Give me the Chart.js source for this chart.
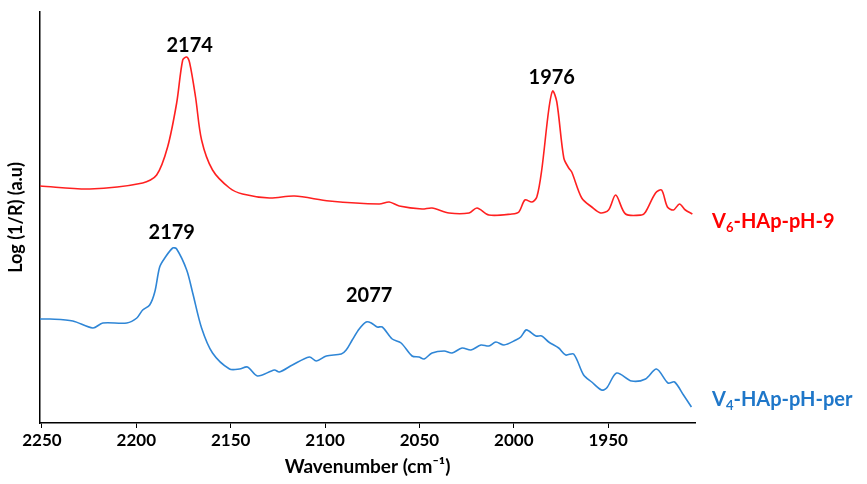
<!DOCTYPE html>
<html>
<head>
<meta charset="utf-8">
<script src="https://cdn.jsdelivr.net/npm/chart.js@4"></script>
<style>
  html, body { margin: 0; padding: 0; background: #fff; }
  #wrap { width: 867px; height: 484px; position: relative; }
</style>
</head>
<body>
<div id="wrap"><canvas id="irChart"></canvas></div>
<script>
// Wavenumber (cm-1) and intensity (a.u.)
const redWn = [2251, 2224.6, 2196.6, 2189.2, 2183.4, 2178.6, 2175.4, 2173.3, 2171.7, 2168.6, 2165.4, 2159.6,
    2150.6, 2143.7, 2129.4, 2116.2, 2097.7, 2071.3, 2066, 2060.7, 2048.6, 2043.3, 2034.3, 2023.7, 2019.5,
    2013.2, 2001, 1997.3, 1994.1, 1990.4, 1987.8, 1985.2, 1981.5, 1979.4, 1977.2, 1973.5, 1970.9, 1969.3,
    1964, 1958.7, 1954, 1949.8, 1946, 1940.8, 1932.3, 1930.2, 1924.9, 1921.7, 1918.6, 1915.4, 1912.2,
    1909.1, 1905.4];
const redVal = [2.37, 2.34, 2.40, 2.48, 2.76, 3.20, 3.63, 3.66, 3.60, 3.26, 2.83, 2.53,
    2.35, 2.29, 2.25, 2.27, 2.22, 2.19, 2.21, 2.17, 2.14, 2.15, 2.10, 2.10, 2.15,
    2.08, 2.09, 2.11, 2.23, 2.21, 2.26, 2.53, 3.13, 3.32, 3.21, 2.65, 2.55, 2.51,
    2.25, 2.16, 2.10, 2.13, 2.28, 2.09, 2.08, 2.11, 2.30, 2.33, 2.16, 2.13, 2.19,
    2.13, 2.09];

const blueWn = [2251, 2245.7, 2233.6, 2223, 2217.7, 2205, 2199.7, 2196.6, 2192.9, 2190.2, 2187.6, 2184.9,
    2180.7, 2178.6, 2173.3, 2170.1, 2165.4, 2159.6, 2150.6, 2145.3, 2141.1, 2135.8, 2126.8, 2124.2,
    2117.3, 2108.3, 2104.6, 2099.3, 2091.4, 2088.8, 2085.6, 2081.9, 2078.2, 2075.5, 2072.4, 2069.7,
    2064.4, 2059.7, 2053.9, 2050.2, 2047.5, 2043.3, 2036.9, 2032.7, 2027.4, 2022.7, 2017.4, 2013.2,
    2009.5, 2005.2, 1998.9, 1996.3, 1993.6, 1992, 1988.3, 1985.2, 1981.5, 1976.2, 1972.5, 1968.3,
    1963, 1958.7, 1953.5, 1950.8, 1945.5, 1937.6, 1930.2, 1924.4, 1918.3, 1914.8, 1910.1, 1905.9];
const blueVal = [1.04, 1.04, 1.02, 0.95, 1.00, 1.00, 1.05, 1.13, 1.18, 1.31, 1.56, 1.65,
    1.75, 1.74, 1.53, 1.30, 0.95, 0.70, 0.54, 0.54, 0.56, 0.47, 0.53, 0.51,
    0.58, 0.66, 0.62, 0.67, 0.69, 0.73, 0.83, 0.94, 1.01, 1.00, 0.96, 0.96,
    0.84, 0.80, 0.67, 0.66, 0.64, 0.70, 0.72, 0.70, 0.75, 0.73, 0.78, 0.77,
    0.81, 0.78, 0.83, 0.86, 0.93, 0.92, 0.87, 0.87, 0.81, 0.75, 0.68, 0.69,
    0.48, 0.41, 0.33, 0.35, 0.50, 0.42, 0.44, 0.54, 0.40, 0.41, 0.28, 0.16];

const xTicks = [2250, 2200, 2150, 2100, 2050, 2000, 1950];

// peak annotations
const peakText = ['2174', '1976', '2179', '2077'];
const peakWn = [2171.7, 1979.9, 2181.2, 2076.6];
const peakVal = [3.77, 3.45, 1.90, 1.27];

// series names (V + subscript + rest), placed to the right of the plot
const seriesMain = ['V', 'V'];
const seriesSub = ['6', '4'];
const seriesRest = ['-HAp-pH-9', '-HAp-pH-per'];
const seriesVal = [2.01, 0.23];
const seriesColor = ['#ff0000', '#1f77c9'];

const toPoints = (xs, ys) => xs.map((x, i) => ({ x: x, y: ys[i] }));

const FONT = 'Lato, "Open Sans", sans-serif';

// draws the peak numbers and the series names
const labelPlugin = {
    id: 'labels',
    afterDatasetsDraw(chart) {
        const ctx = chart.ctx;
        const xs = chart.scales.x;
        const ys = chart.scales.y;
        ctx.save();
        ctx.fillStyle = '#000';
        ctx.font = 'bold 20px ' + FONT;
        ctx.textAlign = 'center';
        ctx.textBaseline = 'middle';
        peakText.forEach((t, i) => {
            ctx.fillText(t, xs.getPixelForValue(peakWn[i]), ys.getPixelForValue(peakVal[i]));
        });

        ctx.textAlign = 'left';
        seriesMain.forEach((m, i) => {
            let x = chart.chartArea.right + 17;
            const y = ys.getPixelForValue(seriesVal[i]);
            ctx.fillStyle = seriesColor[i];
            ctx.font = 'bold 20px ' + FONT;
            ctx.fillText(m, x, y);
            x += ctx.measureText(m).width;
            ctx.font = 'bold 13px ' + FONT;
            ctx.fillText(seriesSub[i], x, y + 6);
            x += ctx.measureText(seriesSub[i]).width;
            ctx.font = 'bold 20px ' + FONT;
            ctx.fillText(seriesRest[i], x, y);
        });
        ctx.restore();
    }
};

function initChart() {
    const ctx = document.getElementById('irChart').getContext('2d');

    const data = {
        datasets: [{
            label: 'V6-HAp-pH-9',
            data: toPoints(redWn, redVal),
            borderColor: '#ff2020',
            borderWidth: 1.6,
            pointRadius: 0,
            tension: 0.3
        }, {
            label: 'V4-HAp-pH-per',
            data: toPoints(blueWn, blueVal),
            borderColor: '#2f86d6',
            borderWidth: 1.6,
            pointRadius: 0,
            tension: 0.3
        }]
    };

    const config = {
        type: 'line',
        data: data,
        plugins: [labelPlugin],
        options: {
            responsive: true,
            maintainAspectRatio: false,
            animation: false,
            layout: { padding: { top: 12, right: 172, bottom: 0, left: 0 } },
            plugins: {
                legend: { display: false },
                tooltip: { enabled: false }
            },
            scales: {
                x: {
                    type: 'linear',
                    reverse: true,
                    min: 1904,
                    max: 2251,
                    afterBuildTicks: (scale) => {
                        scale.ticks = xTicks.map(v => ({ value: v }));
                    },
                    afterFit: (scale) => { scale.height = 61; },
                    grid: { drawOnChartArea: false, tickLength: 5, color: '#000' },
                    border: { color: '#000', width: 1.5 },
                    ticks: {
                        color: '#000',
                        padding: 2,
                        maxRotation: 0,
                        autoSkip: false,
                        callback: (v) => String(v),
                        font: { family: FONT, size: 17, weight: 'bold' }
                    },
                    title: {
                        display: true,
                        text: 'Wavenumber (cm\u207B\u00B9)',
                        color: '#000',
                        padding: { top: 0, bottom: 6 },
                        font: { family: FONT, size: 19, weight: 'bold' }
                    }
                },
                y: {
                    min: 0,
                    max: 4.11,
                    afterFit: (scale) => { scale.width = 40; },
                    grid: { display: false },
                    border: { display: true, color: '#000', width: 1.5 },
                    ticks: { display: false },
                    title: {
                        display: true,
                        text: 'Log (1/R) (a.u)',
                        color: '#000',
                        padding: { top: 5, bottom: 0 },
                        font: { family: FONT, size: 18, weight: 'bold' }
                    }
                }
            }
        }
    };

    new Chart(ctx, config);
}

document.addEventListener('DOMContentLoaded', initChart);
</script>
</body>
</html>
